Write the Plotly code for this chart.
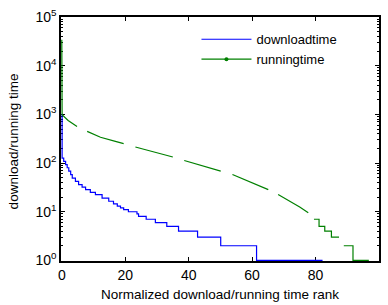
import plotly.graph_objects as go

# ---- data ----
dl_rank = [0, 0.1, 0.6, 1.2, 1.7, 2.2, 2.8, 3.3, 4.3, 5.3, 6.4, 7.5, 9, 10.6, 12.7,
           14.8, 16.3, 17.5, 18.5, 19.5, 21, 23.7, 24.2, 26.6, 29.5, 33.1, 36.8,
           42.8, 50.1, 61.4, 82.2]
dl_time = [1000, 126, 108, 93, 80, 68, 58, 49, 42, 36, 32, 28.5, 25, 22.5, 19,
           16.4, 14.5, 13, 12, 11, 10, 9, 8, 7, 6, 5, 4, 3, 2, 1, 1]

run_rank = [0, 0.1, 2, 4.8, None,
            8.0, 12.2, 16.9, 19.5, None,
            23.2, 29, 35.0, None,
            38.6, 42.7, 46.8, 50.1, None,
            53.8, 59.4, 65.1, None,
            68.2, 72, 75, 77.7]
run_time = [34000, 980, 750, 565, None,
            447, 339, 278, 251, None,
            214, 170, 133, None,
            113, 95, 79, 68, None,
            58, 41, 28.5, None,
            22.5, 16.4, 12.5, 9.5]

run_step_rank = [79.5, 81.1, 82.9, 85.0, 87.4, None, 88.9, 91.8, 96.8]
run_step_time = [7, 5, 4, 3, 3, None, 2, 1, 1]

x_ticks = [0, 20, 40, 60, 80, 100]
y_ticks = [1, 10, 100, 1000, 10000, 100000]
y_ticktext = ["10<sup>0</sup>", "10<sup>1</sup>", "10<sup>2</sup>",
              "10<sup>3</sup>", "10<sup>4</sup>", "10<sup>5</sup>"]
y_minor = [m * d for d in [1, 10, 100, 1000, 10000] for m in range(2, 10)]

BLUE = "#0000ff"
GREEN = "#008000"
FONT = "Liberation Sans, Arial, sans-serif"

fig = go.Figure()
fig.add_trace(go.Scatter(x=dl_rank, y=dl_time, mode="lines", name="downloadtime",
                         line=dict(color=BLUE, width=1.2, shape="hv")))
fig.add_trace(go.Scatter(x=run_rank, y=run_time, mode="lines", showlegend=False,
                         line=dict(color=GREEN, width=1.2), connectgaps=False))
fig.add_trace(go.Scatter(x=run_step_rank, y=run_step_time, mode="lines", showlegend=False,
                         line=dict(color=GREEN, width=1.2, shape="hv"), connectgaps=False))
fig.add_trace(go.Scatter(x=[None], y=[None], mode="lines+markers", name="runningtime",
                         line=dict(color=GREEN, width=1.2),
                         marker=dict(color=GREEN, size=4)))

axis_common = dict(showline=True, linecolor="black", linewidth=1.5, mirror="ticks",
                   ticks="inside", ticklen=4, tickcolor="black", showgrid=False,
                   zeroline=False, layer="below traces", automargin=False,
                   tickfont=dict(family=FONT, size=14, color="black"))

fig.update_xaxes(range=[-0.25, 100], tickvals=x_ticks,
                 title=dict(text="Normalized download/running time rank",
                            font=dict(family=FONT, size=13.5, color="black"), standoff=8),
                 **axis_common)
fig.update_yaxes(type="log", range=[-0.012, 5], tickvals=y_ticks, ticktext=y_ticktext,
                 minor=dict(tickvals=y_minor, ticks="inside", ticklen=2, tickcolor="black"),
                 **axis_common)

fig.add_annotation(text="download/running time", xref="paper", yref="paper",
                   x=-0.148, y=0.49, xanchor="center", yanchor="middle",
                   textangle=-90, showarrow=False,
                   font=dict(family=FONT, size=13.5, color="black"))

fig.update_layout(
    width=388, height=305,
    margin=dict(l=61, r=9, t=17, b=44),
    paper_bgcolor="white", plot_bgcolor="white",
    font=dict(family=FONT, size=13, color="black"),
    legend=dict(x=0.426, y=0.97, xanchor="left", yanchor="top",
                bgcolor="rgba(0,0,0,0)", borderwidth=0, itemwidth=50,
                font=dict(family=FONT, size=13, color="black"), tracegroupgap=4),
)

fig.write_html("out.html", config={"displayModeBar": False},
               post_script="document.body.style.margin='0';"
                           "document.body.style.overflow='hidden';")
